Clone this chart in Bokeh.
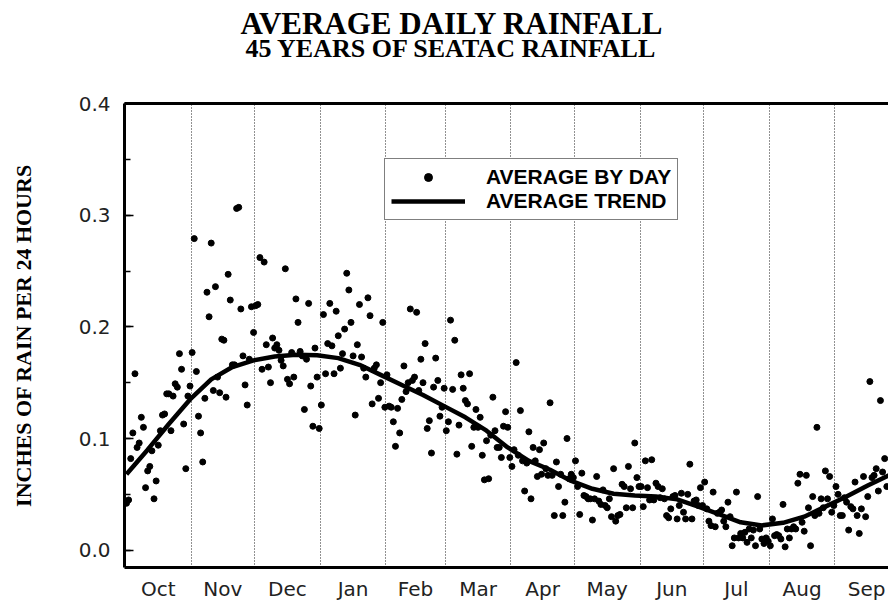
import numpy as np
from bokeh.plotting import figure
from bokeh.models import (Range1d, FixedTicker, SingleIntervalTicker, Legend, LinearAxis,
                          LegendItem, Title, PrintfTickFormatter)
from bokeh.embed import file_html
from bokeh.resources import INLINE

# ---------------- data ----------------
title_text = "AVERAGE DAILY RAINFALL"
subtitle_text = "45 YEARS OF SEATAC RAINFALL"
months = ["Oct", "Nov", "Dec", "Jan", "Feb", "Mar", "Apr", "May", "Jun", "Jul", "Aug", "Sep"]
month_days = [31, 30, 31, 31, 28, 31, 30, 31, 30, 31, 31, 30]

oct_vals = [0.042, 0.045, 0.082, 0.105, 0.158, 0.092, 0.096, 0.119, 0.110, 0.056, 0.071,
            0.075, 0.089, 0.046, 0.062, 0.094, 0.107, 0.121, 0.122, 0.140, 0.140, 0.107,
            0.138, 0.149, 0.146, 0.176, 0.162, 0.113, 0.073, 0.138, 0.147]
nov_vals = [0.177, 0.279, 0.160, 0.120, 0.105, 0.079, 0.136, 0.231, 0.209, 0.275, 0.143,
            0.236, 0.155, 0.141, 0.189, 0.188, 0.137, 0.247, 0.224, 0.166, 0.166, 0.306,
            0.307, 0.216, 0.174, 0.148, 0.130, 0.171, 0.218, 0.195]
dec_vals = [0.219, 0.220, 0.262, 0.162, 0.258, 0.184, 0.164, 0.150, 0.190, 0.181, 0.184,
            0.179, 0.170, 0.165, 0.252, 0.153, 0.149, 0.177, 0.155, 0.225, 0.204, 0.178,
            0.174, 0.126, 0.171, 0.221, 0.147, 0.111, 0.181, 0.155, 0.109]
jan_vals = [0.130, 0.211, 0.158, 0.185, 0.221, 0.183, 0.158, 0.214, 0.192, 0.163, 0.176,
            0.198, 0.248, 0.233, 0.204, 0.174, 0.121, 0.184, 0.220, 0.173, 0.163, 0.155,
            0.226, 0.210, 0.131, 0.163, 0.166, 0.136, 0.150, 0.204, 0.128]
feb_vals = [0.157, 0.129, 0.128, 0.115, 0.093, 0.127, 0.105, 0.135, 0.165, 0.142, 0.150,
            0.216, 0.152, 0.155, 0.213, 0.143, 0.171, 0.150, 0.185, 0.109, 0.116, 0.087,
            0.146, 0.172, 0.152, 0.120, 0.128, 0.145]
mar_vals = [0.107, 0.115, 0.206, 0.144, 0.188, 0.086, 0.112, 0.157, 0.145, 0.134, 0.131,
            0.158, 0.093, 0.110, 0.126, 0.110, 0.119, 0.085, 0.063, 0.098, 0.064, 0.103,
            0.137, 0.107, 0.092, 0.092, 0.083, 0.111, 0.124, 0.110, 0.083]
apr_vals = [0.075, 0.090, 0.168, 0.085, 0.125, 0.080, 0.053, 0.078, 0.106, 0.046, 0.092,
            0.080, 0.066, 0.090, 0.068, 0.096, 0.073, 0.067, 0.132, 0.067, 0.031, 0.079,
            0.057, 0.068, 0.031, 0.043, 0.100, 0.064, 0.068, 0.065]
may_vals = [0.080, 0.057, 0.032, 0.069, 0.049, 0.048, 0.046, 0.046, 0.027, 0.046, 0.066,
            0.044, 0.041, 0.054, 0.040, 0.038, 0.046, 0.030, 0.073, 0.026, 0.031, 0.032,
            0.059, 0.057, 0.038, 0.075, 0.055, 0.038, 0.096, 0.065, 0.057]
jun_vals = [0.057, 0.039, 0.080, 0.056, 0.045, 0.081, 0.045, 0.060, 0.057, 0.047, 0.055,
            0.046, 0.031, 0.029, 0.037, 0.048, 0.049, 0.028, 0.040, 0.051, 0.034, 0.028,
            0.050, 0.077, 0.028, 0.044, 0.045, 0.040, 0.056, 0.040]
jul_vals = [0.061, 0.037, 0.026, 0.022, 0.052, 0.021, 0.033, 0.034, 0.036, 0.026, 0.021,
            0.043, 0.030, 0.004, 0.011, 0.052, 0.011, 0.015, 0.011, 0.016, 0.007, 0.019,
            0.011, 0.018, 0.004, 0.048, 0.019, 0.010, 0.006, 0.011, 0.008]
aug_vals = [0.004, 0.028, 0.013, 0.014, 0.013, 0.010, 0.041, 0.003, 0.019, 0.011, 0.019,
            0.021, 0.019, 0.060, 0.068, 0.025, 0.017, 0.067, 0.038, 0.004, 0.048, 0.031,
            0.110, 0.033, 0.046, 0.038, 0.071, 0.046, 0.066, 0.034, 0.040]
sep_vals = [0.057, 0.050, 0.031, 0.031, 0.047, 0.043, 0.018, 0.039, 0.037, 0.061, 0.031,
            0.015, 0.037, 0.066, 0.030, 0.048, 0.151, 0.065, 0.067, 0.073, 0.053, 0.134,
            0.070, 0.082, 0.057]

trend_days = [0, 10, 20, 30, 40, 50, 60, 70, 80, 90, 100, 110, 120, 130, 140, 150, 160,
              170, 180, 190, 200, 210, 220, 230, 240, 250, 260, 270, 280, 290, 300, 310,
              320, 330, 340, 350, 360]
trend_vals = [0.068, 0.090, 0.113, 0.135, 0.153, 0.164, 0.170, 0.1735, 0.175, 0.1745,
              0.172, 0.166, 0.157, 0.148, 0.139, 0.129, 0.119, 0.107, 0.092, 0.080, 0.072,
              0.062, 0.055, 0.0505, 0.049, 0.048, 0.0455, 0.039, 0.032, 0.025, 0.0222,
              0.0245, 0.030, 0.039, 0.048, 0.058, 0.067]

daily = (oct_vals + nov_vals + dec_vals + jan_vals + feb_vals + mar_vals + apr_vals +
         may_vals + jun_vals + jul_vals + aug_vals + sep_vals)
days = list(range(len(daily)))

month_starts = np.cumsum([0] + month_days[:-1])
month_mids = [float(s + (n - 1) / 2) for s, n in zip(month_starts, month_days)]
boundaries = [float(s) - 0.5 for s in month_starts[1:]]

# ---------------- figure ----------------
p = figure(width=888, height=603, output_backend="svg", toolbar_location=None,
           x_range=Range1d(-0.94, 359.8), y_range=Range1d(-0.0155, 0.4),
           min_border_left=124, min_border_right=0, min_border_top=103,
           min_border_bottom=34, title=None)
p.outline_line_color = None
p.background_fill_color = "white"

tick_font = "DejaVu Sans"

# y axis (left)
yax = p.left[0]
yax.ticker = SingleIntervalTicker(interval=0.1, num_minor_ticks=2)
yax.formatter = PrintfTickFormatter(format="%.1f")
yax.axis_line_width = 3
yax.major_tick_in = 9
yax.major_tick_out = 0
yax.minor_tick_in = 6
yax.minor_tick_out = 0
yax.major_tick_line_width = 1.5
yax.minor_tick_line_width = 1.5
yax.major_label_standoff = 14
yax.major_label_text_font = tick_font
yax.major_label_text_font_size = "20px"
yax.major_label_text_color = "#222222"
yax.axis_label = "INCHES OF RAIN PER 24 HOURS"
yax.axis_label_text_font = "Liberation Serif"
yax.axis_label_text_font_style = "bold"
yax.axis_label_text_font_size = "22px"
yax.axis_label_text_color = "black"
yax.axis_label_standoff = 40

# x axis (bottom)
xax = p.below[0]
xax.ticker = FixedTicker(ticks=month_mids)
xax.major_label_overrides = {m: lab for m, lab in zip(month_mids, months)}
xax.axis_line_width = 3
xax.major_tick_in = 0
xax.major_tick_out = 0
xax.minor_tick_line_color = None
xax.major_label_standoff = 9
xax.major_label_text_font = tick_font
xax.major_label_text_font_size = "20px"
xax.major_label_text_color = "#222222"

p.xgrid.ticker = FixedTicker(ticks=boundaries)
p.xgrid.grid_line_color = "#222222"
p.xgrid.grid_line_dash = "1 2"
p.xgrid.grid_line_width = 1
p.ygrid.grid_line_color = None

# top border line
top_axis = LinearAxis(ticker=FixedTicker(ticks=[]), axis_line_width=3,
                      major_tick_in=0, major_tick_out=0, major_tick_line_color=None,
                      minor_tick_in=0, minor_tick_out=0, minor_tick_line_color=None,
                      major_label_standoff=0)
p.add_layout(top_axis, "above")

# blank gap between the titles and the plot
p.add_layout(Title(text=" ", text_font_size="10px", standoff=28), "above")

sub = Title(text=subtitle_text, align="left", offset=121,
            text_font="Liberation Serif", text_font_style="bold",
            text_font_size="26px", text_color="black", standoff=0)
main = Title(text=title_text, align="left", offset=116,
             text_font="Liberation Serif", text_font_style="bold",
             text_font_size="31px", text_color="black", standoff=-18)
p.add_layout(sub, "above")
p.add_layout(main, "above")

dots = p.scatter(days, daily, size=6, color="black")
trend = p.line(trend_days, trend_vals, line_width=4.5, color="black")

legend = Legend(items=[LegendItem(label="AVERAGE BY DAY", renderers=[dots]),
                       LegendItem(label="AVERAGE TREND", renderers=[trend])],
                location=(260, 347), margin=0, padding=6, spacing=0,
                glyph_width=74, glyph_height=20, label_height=20, label_standoff=21,
                border_line_color="black", border_line_width=1,
                background_fill_color="white", background_fill_alpha=1.0,
                label_text_font="Liberation Sans", label_text_font_style="bold",
                label_text_font_size="21px", label_text_color="black")
p.add_layout(legend)

open("out.html", "w").write(file_html(p, INLINE))
